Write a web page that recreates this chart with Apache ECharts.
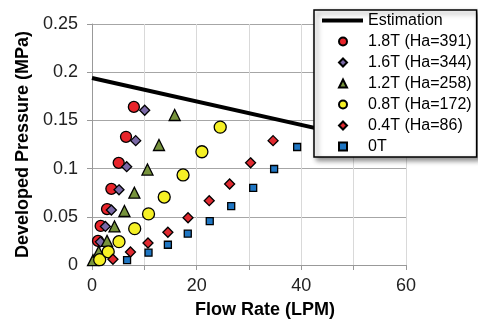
<!DOCTYPE html>
<html>
<head>
<meta charset="utf-8">
<script src="https://cdn.jsdelivr.net/npm/echarts@6/dist/echarts.min.js"></script>
<style>html,body{margin:0;padding:0;background:#fff}#c{width:478px;height:325px}</style>
</head>
<body>
<div id="c"></div>
<script>
const estFlow = [0, 60];
const estPressure = [0.194, 0.121];

const flow18 = [1.15, 1.66, 2.87, 3.7, 5.1, 6.5, 8.0];
const pres18 = [0.025, 0.0405, 0.058, 0.079, 0.106, 0.133, 0.164];

const flow16 = [1.6, 2.56, 3.7, 5.16, 6.63, 8.35, 10.07];
const pres16 = [0.024, 0.040, 0.057, 0.078, 0.102, 0.129, 0.1605];

const flow12 = [0.2, 1.28, 2.87, 4.3, 6.2, 8.1, 10.6, 12.8, 15.8];
const pres12 = [0.005, 0.0138, 0.025, 0.0400, 0.056, 0.075, 0.099, 0.1245, 0.1556];

const flow08 = [1.47, 3.1, 5.16, 8.16, 10.8, 13.8, 17.4, 21.0, 24.5];
const pres08 = [0.0055, 0.0137, 0.0242, 0.0377, 0.053, 0.0705, 0.0934, 0.1175, 0.143];

const flow04 = [4.0, 7.35, 10.7, 14.5, 18.35, 22.4, 26.3, 30.3, 34.6];
const pres04 = [0.006, 0.0135, 0.0228, 0.034, 0.049, 0.0667, 0.084, 0.106, 0.129];

const flow00 = [6.7, 10.8, 14.5, 18.3, 22.5, 26.6, 30.8, 34.8, 39.2];
const pres00 = [0.005, 0.0128, 0.021, 0.0325, 0.0456, 0.061, 0.080, 0.0996, 0.1224];

const seriesNames = ['Estimation', '1.8T (Ha=391)', '1.6T (Ha=344)', '1.2T (Ha=258)', '0.8T (Ha=172)', '0.4T (Ha=86)', '0T'];
const xTicks = [0, 20, 40, 60];

const zip = (a, b) => a.map((v, i) => [v, b[i]]);
const FONT = 'Liberation Sans, Arial, sans-serif';

function sc(name, xs, ys, symbol, size, color) {
  return {
    type: 'scatter', name, data: zip(xs, ys), symbol, symbolSize: size,
    itemStyle: { color, borderColor: '#000', borderWidth: 1.3, opacity: 1 },
    emphasis: { disabled: true }
  };
}

const chart = echarts.init(document.getElementById('c'), null, { renderer: 'canvas' });
chart.setOption({
  animation: false,
  backgroundColor: '#fff',
  textStyle: { fontFamily: FONT },
  grid: { left: 92, right: 72, top: 24, bottom: 60, containLabel: false },
  xAxis: {
    type: 'value', min: 0, max: 60, interval: 10,
    name: 'Flow Rate (LPM)', nameLocation: 'middle', nameGap: 36,
    nameTextStyle: { fontFamily: FONT, fontSize: 18, fontWeight: 'bold', color: '#000', padding: [0, 0, 0, 32] },
    axisLine: { show: true, lineStyle: { color: '#999', width: 1 } },
    axisTick: { show: true, length: 5, lineStyle: { color: '#999' } },
    axisLabel: { fontFamily: FONT, fontSize: 18, color: '#222', margin: 12,
      formatter: v => (xTicks.indexOf(v) >= 0 ? String(v) : '') },
    splitLine: { show: true, lineStyle: { color: '#d9d9d9', width: 1 } }
  },
  yAxis: {
    type: 'value', min: 0, max: 0.25, interval: 0.05,
    name: 'Developed Pressure (MPa)', nameLocation: 'middle', nameGap: 52, nameRotate: 90,
    nameTextStyle: { fontFamily: FONT, fontSize: 18, fontWeight: 'bold', color: '#000' },
    axisLine: { show: true, lineStyle: { color: '#999', width: 1 } },
    axisTick: { show: true, length: 5, lineStyle: { color: '#999' } },
    axisLabel: { fontFamily: FONT, fontSize: 18, color: '#222', margin: 14 },
    splitLine: { show: true, lineStyle: { color: '#a6a6a6', width: 1 } }
  },
  legend: [
    {
      left: 314, top: 10, orient: 'vertical',
      itemWidth: 8, itemHeight: 8, itemGap: 0,
      padding: [21, 5, 0, 24],
      backgroundColor: '#fff', borderColor: '#000', borderWidth: 1.5, borderRadius: 0,
      shadowColor: 'rgba(0,0,0,0.45)', shadowBlur: 5, shadowOffsetX: 3, shadowOffsetY: 3,
      textStyle: { fontFamily: FONT, fontSize: 16, color: '#000', lineHeight: 21, padding: [0, 0, 0, 16] },
      selectedMode: false, z: 4,
      data: [
        { name: seriesNames[1], icon: 'circle' },
        { name: seriesNames[2], icon: 'diamond' },
        { name: seriesNames[3], icon: 'triangle' },
        { name: seriesNames[4], icon: 'circle' },
        { name: seriesNames[5], icon: 'diamond' },
        { name: seriesNames[6], icon: 'rect' }
      ]
    },
    {
      left: 322, top: 10, orient: 'vertical',
      itemWidth: 41, itemHeight: 4, itemGap: 0, padding: 0,
      textStyle: { fontFamily: FONT, fontSize: 16, color: '#000', lineHeight: 21 },
      selectedMode: false, z: 6,
      data: [{ name: seriesNames[0], icon: 'rect', itemStyle: { color: '#000', borderWidth: 0 } }]
    }
  ],
  series: [
    {
      type: 'line', name: seriesNames[0], data: zip(estFlow, estPressure),
      symbol: 'none', lineStyle: { color: '#000', width: 4 }, itemStyle: { color: '#000' },
      emphasis: { disabled: true }, z: 1
    },
    sc(seriesNames[1], flow18, pres18, 'circle', 11, '#e8242a'),
    sc(seriesNames[2], flow16, pres16, 'diamond', 10, '#7a68a6'),
    sc(seriesNames[3], flow12, pres12, 'triangle', 11, '#77933c'),
    sc(seriesNames[4], flow08, pres08, 'circle', 12, '#f5f025'),
    sc(seriesNames[5], flow04, pres04, 'diamond', 10, '#e02a30'),
    sc(seriesNames[6], flow00, pres00, 'rect', 7, '#1f76c3')
  ]
});
</script>
</body>
</html>
